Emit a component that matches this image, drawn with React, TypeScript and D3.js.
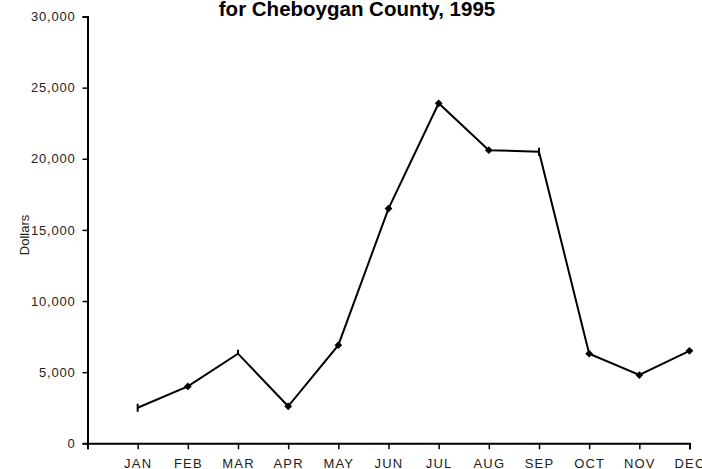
import { useRef, useEffect } from 'react';
import * as d3 from 'd3';

// ---------------------------------------------------------------------------
// Data
// ---------------------------------------------------------------------------
const MONTHS = ['JAN', 'FEB', 'MAR', 'APR', 'MAY', 'JUN', 'JUL', 'AUG', 'SEP', 'OCT', 'NOV', 'DEC'];
const DOLLARS = [2500, 4000, 6300, 2600, 6900, 16500, 23900, 20600, 20500, 6300, 4800, 6500];
// months drawn with a bar marker instead of a diamond (as in the original)
const BAR_MARKERS = ['JAN', 'MAR', 'SEP'];
const Y_TICKS = [0, 5000, 10000, 15000, 20000, 25000, 30000];
const TITLE = 'for Cheboygan County, 1995';
const Y_LABEL = 'Dollars';

const W = 702;
const H = 469;
const FONT = 'Arial, "Liberation Sans", sans-serif';

export default function App() {
  const svgRef = useRef<SVGSVGElement>(null);

  useEffect(() => {
    document.body.style.margin = '0';
    const svg = svgRef.current;
    if (!svg) return;

    const sel = d3.select(svg);
    sel.selectAll('*').remove();

    // first slot is empty, sits on the y axis
    const x = d3.scalePoint<string>().domain(['', ...MONTHS]).range([87.5, 689.5]);
    const y = d3.scaleLinear().domain([0, 30000]).range([443.3, 16.5]);

    // Title (first line is outside the picture)
    sel.append('text')
      .attr('x', 357)
      .attr('y', 16)
      .attr('text-anchor', 'middle')
      .attr('font-family', FONT)
      .attr('font-weight', 'bold')
      .attr('font-size', '20.5px')
      .text(TITLE);

    // Y axis
    const yAxis = d3.axisLeft(y)
      .tickValues(Y_TICKS)
      .tickSize(5)
      .tickPadding(7)
      .tickFormat((d) => d3.format(',')(d as number));
    const gy = sel.append('g').attr('transform', `translate(${x('')},0)`).call(yAxis);
    gy.select('.domain').attr('stroke', '#000').attr('stroke-width', 2);
    gy.selectAll('.tick line').attr('stroke', '#000').attr('stroke-width', 1.5);
    gy.selectAll('.tick text')
      .attr('fill', '#222')
      .attr('font-family', FONT)
      .attr('font-size', '13px')
      .attr('letter-spacing', '0.8px');

    // X axis
    const xAxis = d3.axisBottom(x).tickSize(6).tickPadding(9);
    const gx = sel.append('g').attr('transform', `translate(0,${y(0)})`).call(xAxis);
    gx.select('.domain').attr('stroke', '#000').attr('stroke-width', 2);
    gx.selectAll('.tick line').attr('stroke', '#000').attr('stroke-width', 1.5);
    gx.selectAll('.tick text')
      .attr('fill', '#222')
      .attr('font-family', FONT)
      .attr('font-size', '13px')
      .attr('letter-spacing', '1.2px');

    // Y label
    sel.append('text')
      .attr('transform', `translate(29,235) rotate(-90)`)
      .attr('text-anchor', 'middle')
      .attr('font-family', FONT)
      .attr('font-size', '13px')
      .attr('fill', '#222')
      .text(Y_LABEL);

    // Line
    const data = MONTHS.map((m, i) => ({ month: m, value: DOLLARS[i] }));
    const line = d3.line<{ month: string; value: number }>()
      .x((d) => x(d.month) as number)
      .y((d) => y(d.value));

    sel.append('path')
      .datum(data)
      .attr('d', line)
      .attr('fill', 'none')
      .attr('stroke', '#000')
      .attr('stroke-width', 2);

    // Markers
    const diamond = d3.symbol().type(d3.symbolSquare).size(30);
    data.forEach((d) => {
      const px = x(d.month) as number;
      const py = y(d.value);
      if (BAR_MARKERS.includes(d.month)) {
        sel.append('line')
          .attr('x1', px).attr('x2', px)
          .attr('y1', py - 4).attr('y2', py + (d.month === 'MAR' ? 1 : 4))
          .attr('stroke', '#000')
          .attr('stroke-width', 2);
      } else {
        sel.append('path')
          .attr('d', diamond)
          .attr('transform', `translate(${px},${py}) rotate(45)`)
          .attr('fill', '#000');
      }
    });
  }, []);

  return <svg ref={svgRef} width={W} height={H} style={{ display: 'block', background: '#fff' }} />;
}
